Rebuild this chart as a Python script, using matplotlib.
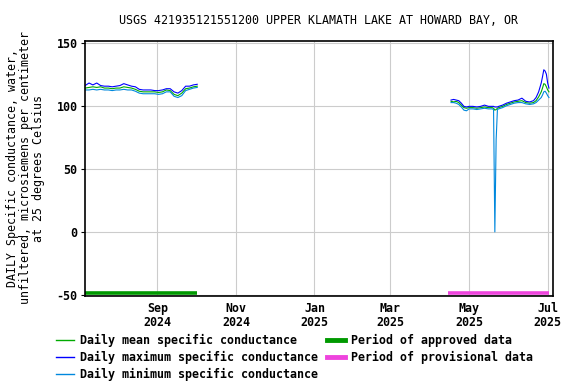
import matplotlib
matplotlib.use('Agg')
import matplotlib.pyplot as plt
import matplotlib.dates as mdates
import pandas as pd

plt.rcParams['font.family'] = 'DejaVu Sans Mono'
plt.rcParams['font.weight'] = 'bold'
plt.rcParams['axes.unicode_minus'] = False

# first block of data, Jul - Oct 2024 (approved)
dates1 = pd.date_range('2024-07-07', '2024-10-02', freq='3D')
mean1 = [114, 114.5, 115, 114.5, 115, 114, 114, 113.5, 114, 114, 115, 114.5, 114, 113,
         111.5, 111, 111, 111, 111, 110.5, 111, 112.5, 112, 109, 108, 110, 113.5, 114,
         115, 115.5]
max1 = [116, 118, 116.5, 118, 116, 115.5, 115.5, 115, 115.5, 116, 117.5, 116.5, 115.5, 115,
        113, 112.5, 112.5, 112.5, 112, 112, 112.5, 113.5, 113.5, 111, 110, 112, 115.5,
        115.5, 116.5, 117]
min1 = [112.5, 112.5, 113, 112.5, 113, 112.5, 112.5, 112, 112.5, 112.5, 113, 112.5,
        112.5, 111.5, 110, 109.5, 109.5, 109.5, 109.5, 109, 109.5, 111, 111, 107.5,
        106.5, 108, 112, 113, 114, 114.5]

# second block, Apr - Jul 2025 (provisional)
dates2 = pd.to_datetime([
    '2025-04-17', '2025-04-19', '2025-04-21', '2025-04-23', '2025-04-25', '2025-04-27',
    '2025-04-29', '2025-05-01', '2025-05-04', '2025-05-07', '2025-05-10', '2025-05-13',
    '2025-05-16', '2025-05-19', '2025-05-20', '2025-05-21', '2025-05-22', '2025-05-23',
    '2025-05-24', '2025-05-27', '2025-05-30', '2025-06-02', '2025-06-05', '2025-06-08',
    '2025-06-11', '2025-06-14', '2025-06-17', '2025-06-20', '2025-06-22', '2025-06-24',
    '2025-06-26', '2025-06-27', '2025-06-28', '2025-06-29', '2025-06-30', '2025-07-01',
    '2025-07-02'])
mean2 = [103.5, 103, 103.5, 102.5, 100.5, 98.5, 98, 98.5, 98.5, 98, 98.5, 99, 98.5, 98.5,
         98, 96.5, 97, 98, 98.5, 99.5, 101, 102, 103, 103.5, 104, 102.5, 102, 102.5, 104,
         107, 111, 114, 117.5, 117, 115, 112.5, 111]
max2 = [104.5, 105, 104.5, 104, 102, 99.5, 99, 99.5, 99.5, 99, 99.5, 100.5, 99.5, 99.5,
        99.5, 99, 99, 99, 99.5, 100.5, 102, 103, 104, 104.5, 106, 103.5, 103, 104, 106.5,
        111, 118, 123, 128.5, 127.5, 125, 118, 114]
min2 = [102.5, 102.5, 102, 101, 99, 96.5, 96, 97.5, 97.5, 97, 97.5, 98, 97.5, 97.5,
        97, 0, 73, 97, 97.5, 98.5, 100, 101, 102, 102.5, 102.5, 101.5, 101, 101.5, 102.5,
        104.5, 106.5, 108.5, 111, 111.5, 110, 108, 106.5]

approved = ('2024-07-06', '2024-10-02')
provisional = ('2025-04-15', '2025-07-02')
bar_level = -48.5

title = 'USGS 421935121551200 UPPER KLAMATH LAKE AT HOWARD BAY, OR'
ylabel = ('DAILY Specific conductance, water,\n'
          'unfiltered, microsiemens per centimeter\n'
          'at 25 degrees Celsius')

c_mean = '#00aa00'
c_max = '#0000ff'
c_min = '#0088dd'

fig = plt.figure(figsize=(5.76, 3.84), dpi=100)
ax = fig.add_axes([84.5 / 576, 1 - 295.5 / 384, (552.5 - 84.5) / 576, (295.5 - 40.5) / 384])

for d, mn, mx, mi in [(dates1, mean1, max1, min1), (dates2, mean2, max2, min2)]:
    ax.plot(d, mn, color=c_mean, lw=0.8)
    ax.plot(d, mx, color=c_max, lw=0.8)
    ax.plot(d, mi, color=c_min, lw=0.8)

ax.plot(pd.to_datetime(approved), [bar_level] * 2, color='#009900', lw=2.6, solid_capstyle='butt')
ax.plot(pd.to_datetime(provisional), [bar_level] * 2, color='#ee44dd', lw=2.6, solid_capstyle='butt')

ax.set_xlim(pd.Timestamp('2024-07-06 12:00'), pd.Timestamp('2025-07-04 18:00'))
ax.set_ylim(-50.4, 151.7)
ax.set_yticks([-50, 0, 50, 100, 150])
ax.xaxis.set_major_locator(mdates.MonthLocator(bymonth=[1, 3, 5, 7, 9, 11]))
ax.xaxis.set_major_formatter(mdates.DateFormatter('%b\n%Y'))
ax.grid(True, color='#cccccc', lw=0.8)
ax.set_axisbelow(True)
ax.tick_params(axis='y', length=3, width=0.8, pad=2, labelsize=8.4)
ax.tick_params(axis='x', length=0, pad=5, labelsize=8.4)
for lab in ax.get_xticklabels():
    lab.set_linespacing(1.05)
for s in ax.spines.values():
    s.set_linewidth(1.2)

ax.set_title(title, fontsize=8.4, pad=12)
ax.set_ylabel(ylabel, fontsize=8.4, linespacing=0.98, labelpad=8.5)

h = [plt.Line2D([], [], color=c_mean, lw=1),
     plt.Line2D([], [], color=c_max, lw=1),
     plt.Line2D([], [], color=c_min, lw=1),
     plt.Line2D([], [], color='#009900', lw=3.5),
     plt.Line2D([], [], color='#ee44dd', lw=3.5)]
labels = ['Daily mean specific conductance', 'Daily maximum specific conductance',
          'Daily minimum specific conductance', 'Period of approved data',
          'Period of provisional data']
fig.legend(h, labels, loc='upper left', bbox_to_anchor=(56 / 576, 1 - 334 / 384), ncol=2,
           frameon=False, fontsize=8.4, handlelength=1.55, handletextpad=0.5,
           columnspacing=0.75, labelspacing=0.35, borderpad=0, borderaxespad=0)

fig.savefig('out.png', dpi=100)
